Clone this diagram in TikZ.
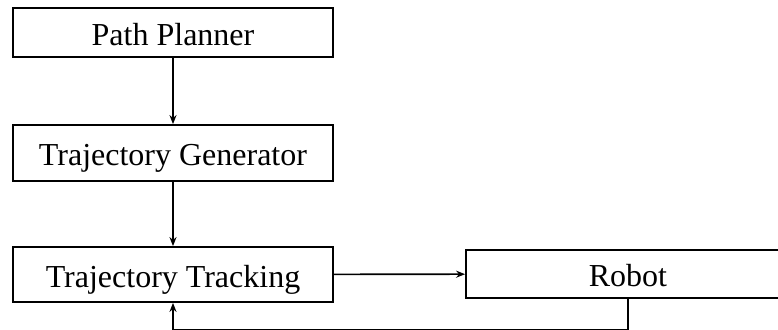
\documentclass[tikz,border=0pt]{standalone}
\usepackage{fontspec}
\setmainfont{Liberation Serif}
\usepackage{tikz}
\usetikzlibrary{arrows.meta,positioning,calc}

\begin{document}
\begin{tikzpicture}[
    x=1pt,y=-1pt,
    every node/.style={font=\fontsize{32}{38}\selectfont},
    block/.style={draw=black,line width=1.8pt,minimum width=320pt,inner sep=0pt,text height=32pt,text depth=6.5pt},
    arr/.style={-{Stealth[length=9pt,width=7pt]},black,line width=1.6pt}
  ]
    \useasboundingbox (0,0) rectangle (778,329);
    \clip (0,0) rectangle (778,329);
    \node[block,minimum height=49pt] (planner) at (173,32.5) {Path Planner};
    \node[block,minimum height=56pt] (generator) at (173,153) {Trajectory Generator};
    \node[block,minimum height=55pt] (tracking) at (173,274.5) {Trajectory Tracking};
    \node[block,minimum height=48pt,minimum width=324pt] (robot) at (628,274) {Robot};
    \coordinate (fb) at (628,329.4);
    \draw[arr] (planner) -- (generator);
    \draw[arr] (generator) -- (tracking);
    \draw[arr] (tracking) -- (robot);
    \draw[arr] (robot.south) -- (fb) -| (tracking.south);
  \end{tikzpicture}
\end{document}
